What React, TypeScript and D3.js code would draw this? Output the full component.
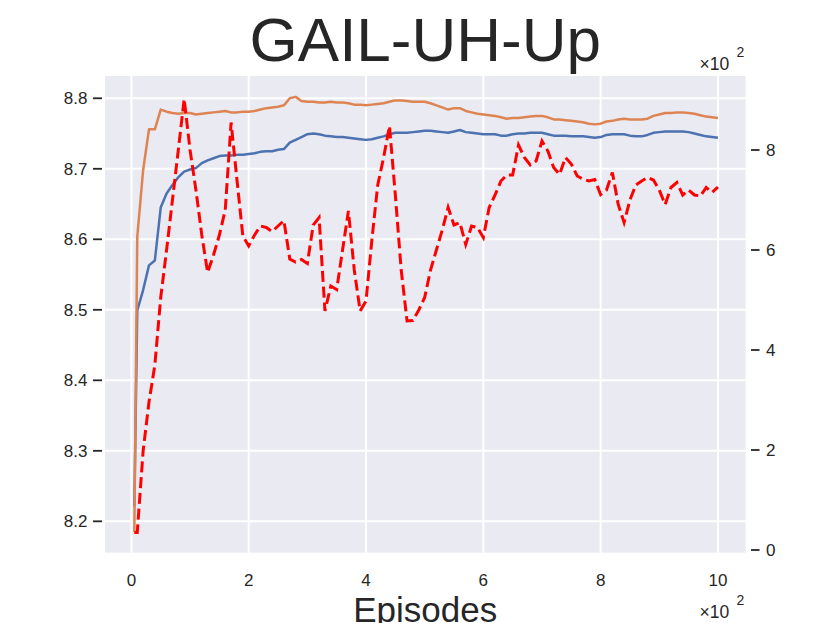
import * as d3 from 'd3';
import React, { useRef, useEffect } from 'react';

// x values (episodes), axis shows them with a x10^2 offset
const episodes = [
  5, 10, 20, 30, 40, 50, 60, 70, 80, 90,
  100, 110, 120, 130, 140, 150, 160, 170, 180, 190,
  200, 210, 220, 230, 240, 250, 260, 270, 280, 290,
  300, 310, 320, 330, 340, 350, 360, 370, 380, 390,
  400, 410, 420, 430, 440, 450, 460, 470, 480, 490,
  500, 510, 520, 530, 540, 550, 560, 570, 580, 590,
  600, 610, 620, 630, 640, 650, 660, 670, 680, 690,
  700, 710, 720, 730, 740, 750, 760, 770, 780, 790,
  800, 810, 820, 830, 840, 850, 860, 870, 880, 890,
  900, 910, 920, 930, 940, 950, 960, 970, 980, 990,
  1000,
];

// blue line (left axis)
const blueSeries = [
  8.221, 8.499, 8.528, 8.563, 8.570, 8.645, 8.665, 8.677, 8.688, 8.696,
  8.699, 8.701, 8.708, 8.712, 8.715, 8.718, 8.719, 8.719, 8.720, 8.720,
  8.721, 8.722, 8.724, 8.725, 8.725, 8.727, 8.728, 8.737, 8.741, 8.745,
  8.749, 8.750, 8.749, 8.747, 8.746, 8.745, 8.745, 8.744, 8.743, 8.742,
  8.741, 8.742, 8.744, 8.746, 8.749, 8.751, 8.751, 8.751, 8.752, 8.753,
  8.754, 8.754, 8.753, 8.752, 8.751, 8.753, 8.755, 8.752, 8.751, 8.750,
  8.749, 8.749, 8.749, 8.747, 8.747, 8.749, 8.750, 8.750, 8.751, 8.751,
  8.751, 8.749, 8.747, 8.747, 8.747, 8.746, 8.746, 8.746, 8.745, 8.744,
  8.745, 8.748, 8.749, 8.749, 8.749, 8.747, 8.746, 8.746, 8.748, 8.751,
  8.752, 8.753, 8.753, 8.753, 8.753, 8.752, 8.750, 8.748, 8.746, 8.745,
  8.744,
];

// orange line (left axis)
const orangeSeries = [
  8.185, 8.603, 8.698, 8.756, 8.756, 8.784, 8.781, 8.779, 8.778, 8.779,
  8.779, 8.777, 8.778, 8.779, 8.780, 8.781, 8.782, 8.780, 8.780, 8.781,
  8.781, 8.782, 8.784, 8.786, 8.787, 8.788, 8.790, 8.800, 8.802, 8.796,
  8.795, 8.795, 8.794, 8.794, 8.795, 8.794, 8.794, 8.793, 8.791, 8.791,
  8.790, 8.791, 8.792, 8.793, 8.795, 8.797, 8.797, 8.796, 8.795, 8.795,
  8.795, 8.793, 8.790, 8.787, 8.784, 8.786, 8.786, 8.782, 8.780, 8.778,
  8.777, 8.776, 8.775, 8.773, 8.771, 8.772, 8.772, 8.773, 8.774, 8.775,
  8.775, 8.773, 8.770, 8.770, 8.769, 8.768, 8.767, 8.766, 8.764, 8.763,
  8.764, 8.767, 8.768, 8.770, 8.771, 8.770, 8.770, 8.770, 8.771, 8.775,
  8.777, 8.779, 8.779, 8.780, 8.780, 8.779, 8.778, 8.776, 8.774, 8.773,
  8.772,
];

// red dashed line (right axis, shown with a x10^2 offset)
const redSeries = [
  35, 35, 198, 296, 370, 505, 600, 700, 800, 902,
  800, 720, 630, 555, 590, 630, 680, 855, 740, 628,
  608, 630, 648, 645, 637, 648, 659, 582, 576, 581,
  573, 650, 665, 478, 528, 521, 600, 678, 560, 478,
  498, 620, 730, 785, 848, 710, 560, 458, 459, 480,
  505, 560, 600, 640, 685, 650, 655, 611, 648, 645,
  625, 685, 710, 738, 750, 750, 810, 785, 770, 778,
  818, 798, 765, 751, 785, 772, 748, 742, 738, 741,
  711, 720, 755, 691, 655, 700, 730, 738, 745, 740,
  720, 691, 725, 735, 710, 720, 710, 708, 725, 715,
  726,
];

const xTicks = [0, 200, 400, 600, 800, 1000];
const leftTicks = [8.2, 8.3, 8.4, 8.5, 8.6, 8.7, 8.8];
const rightTicks = [0, 200, 400, 600, 800];

const width = 830;
const height = 623;
const plot = { left: 105, right: 745.5, top: 76, bottom: 552.7 };
const textColor = '#262626';
const font = "Arial, 'Liberation Sans', sans-serif";

export default function App() {
  const svgRef = useRef<SVGSVGElement | null>(null);

  function drawChart() {
    const svg = d3.select(svgRef.current);
    svg.selectAll('*').remove();

    const x = d3.scaleLinear().domain([-45, 1047]).range([plot.left, plot.right]);
    const yLeft = d3.scaleLinear().domain([8.1555, 8.8316]).range([plot.bottom, plot.top]);
    const yRight = d3.scaleLinear().domain([-5.4, 948]).range([plot.bottom, plot.top]);

    svg.append('rect')
      .attr('width', width).attr('height', height)
      .attr('fill', 'white');

    // plot background
    svg.append('rect')
      .attr('x', plot.left).attr('y', plot.top)
      .attr('width', plot.right - plot.left)
      .attr('height', plot.bottom - plot.top)
      .attr('fill', '#eaeaf2');

    // grid
    const grid = svg.append('g').attr('stroke', 'white').attr('stroke-width', 2);
    grid.selectAll('.vg').data(xTicks).enter().append('line')
      .attr('x1', d => x(d)).attr('x2', d => x(d))
      .attr('y1', plot.top).attr('y2', plot.bottom);
    grid.selectAll('.hg').data(leftTicks).enter().append('line')
      .attr('x1', plot.left).attr('x2', plot.right)
      .attr('y1', d => yLeft(d)).attr('y2', d => yLeft(d));

    // lines
    const idx = d3.range(episodes.length);
    const lineLeft = (vals: number[]) => d3.line<number>()
      .x(i => x(episodes[i]))
      .y(i => yLeft(vals[i]))(idx);

    svg.append('path')
      .attr('d', lineLeft(blueSeries))
      .attr('fill', 'none').attr('stroke', '#4c72b0')
      .attr('stroke-width', 2.5).attr('stroke-linejoin', 'round');

    svg.append('path')
      .attr('d', lineLeft(orangeSeries))
      .attr('fill', 'none').attr('stroke', '#dd8452')
      .attr('stroke-width', 2.5).attr('stroke-linejoin', 'round');

    const redLine = d3.line<number>()
      .x(i => x(episodes[i]))
      .y(i => yRight(redSeries[i]));
    svg.append('path')
      .attr('d', redLine(idx))
      .attr('fill', 'none').attr('stroke', 'red')
      .attr('stroke-width', 3)
      .attr('stroke-dasharray', '11,4.8');

    // left axis
    const la = svg.append('g');
    la.selectAll('line').data(leftTicks).enter().append('line')
      .attr('x1', 93).attr('x2', 102)
      .attr('y1', d => yLeft(d)).attr('y2', d => yLeft(d))
      .attr('stroke', textColor).attr('stroke-width', 1.8);
    la.selectAll('text').data(leftTicks).enter().append('text')
      .attr('x', 87.5).attr('y', d => yLeft(d) + 6)
      .attr('text-anchor', 'end')
      .attr('font-family', font).attr('font-size', 17)
      .attr('fill', textColor)
      .text(d => d.toFixed(1));

    // right axis
    const ra = svg.append('g');
    ra.selectAll('line').data(rightTicks).enter().append('line')
      .attr('x1', 751).attr('x2', 759.5)
      .attr('y1', d => yRight(d)).attr('y2', d => yRight(d))
      .attr('stroke', textColor).attr('stroke-width', 1.8);
    ra.selectAll('text').data(rightTicks).enter().append('text')
      .attr('x', 766).attr('y', d => yRight(d) + 6)
      .attr('font-family', font).attr('font-size', 17)
      .attr('fill', textColor)
      .text(d => String(d / 100));

    // bottom axis labels
    svg.append('g').selectAll('text').data(xTicks).enter().append('text')
      .attr('x', d => x(d)).attr('y', 586)
      .attr('text-anchor', 'middle')
      .attr('font-family', font).attr('font-size', 17)
      .attr('fill', textColor)
      .text(d => String(d / 100));

    // offset labels (x10^2)
    const offsets = [{ y: 69.5 }, { y: 617.7 }];
    offsets.forEach(o => {
      svg.append('text')
        .attr('x', 699.5).attr('y', o.y)
        .attr('font-family', font).attr('font-size', 17.5)
        .attr('fill', textColor)
        .text('×10');
      svg.append('text')
        .attr('x', 736.5).attr('y', o.y - 13)
        .attr('font-family', font).attr('font-size', 14)
        .attr('fill', textColor)
        .text('2');
    });

    // title
    svg.append('text')
      .attr('x', (plot.left + plot.right) / 2).attr('y', 61)
      .attr('text-anchor', 'middle')
      .attr('font-family', font).attr('font-size', 62)
      .attr('fill', textColor)
      .text('GAIL-UH-Up');

    // x label
    svg.append('text')
      .attr('x', (plot.left + plot.right) / 2).attr('y', 622)
      .attr('text-anchor', 'middle')
      .attr('font-family', font).attr('font-size', 35)
      .attr('fill', textColor)
      .text('Episodes');
  }

  useEffect(() => {
    drawChart();
  });

  return (
    <svg ref={svgRef} width={width} height={height}
      style={{ position: 'absolute', left: 0, top: 0 }} />
  );
}
